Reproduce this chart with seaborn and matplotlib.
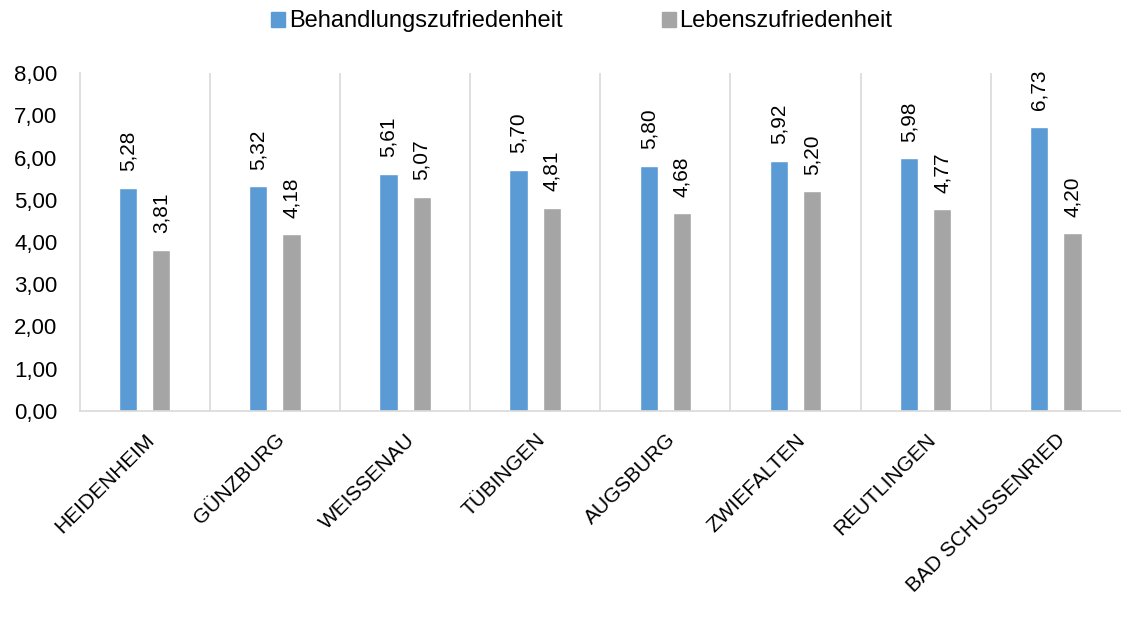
import pandas as pd
import numpy as np
import matplotlib
matplotlib.use("Agg")
import matplotlib.pyplot as plt
import seaborn as sns

kliniken = ["HEIDENHEIM", "GÜNZBURG", "WEISSENAU", "TÜBINGEN", "AUGSBURG",
            "ZWIEFALTEN", "REUTLINGEN", "BAD SCHUSSENRIED"]
behandlung = [5.28, 5.32, 5.61, 5.70, 5.80, 5.92, 5.98, 6.73]
leben = [3.81, 4.18, 5.07, 4.81, 4.68, 5.20, 4.77, 4.20]
serien = ["Behandlungszufriedenheit", "Lebenszufriedenheit"]
farben = ["#5B9BD5", "#A5A5A5"]

df = pd.DataFrame({
    "klinik": kliniken * 2,
    "wert": behandlung + leben,
    "serie": [serien[0]] * len(kliniken) + [serien[1]] * len(kliniken),
})

sns.set_style("white")
plt.rcParams["font.family"] = ["Liberation Sans", "DejaVu Sans"]
plt.rcParams["text.color"] = "black"
plt.rcParams["xtick.color"] = "black"
plt.rcParams["ytick.color"] = "black"

fig, ax = plt.subplots(figsize=(11.21, 6.30), dpi=100)
fig.subplots_adjust(left=0.071, right=1.0, top=0.884, bottom=0.348)

sns.barplot(data=df, x="klinik", y="wert", hue="serie", order=kliniken,
            hue_order=serien, palette=farben, width=0.51, gap=0.45,
            saturation=1, ax=ax, legend=False)

for cont in ax.containers:
    ax.bar_label(cont, labels=[f"{b.get_height():.2f}".replace(".", ",") for b in cont],
                 rotation=90, padding=12, fontsize=15)

ax.set_ylim(0, 8)
ax.set_xlim(-0.5, len(kliniken) - 0.5)
ax.set_yticks(range(9))
ax.set_yticklabels([f"{v:.2f}".replace(".", ",") for v in range(9)], fontsize=16)
ax.set_xlabel("")
ax.set_ylabel("")
ax.set_xticks(range(len(kliniken)))
ax.set_xticklabels(kliniken, rotation=45, ha="right", rotation_mode="anchor",
                   fontsize=15)
ax.tick_params(axis="x", length=0, pad=14)
ax.tick_params(axis="y", length=4, width=1.2, color="#D9D9D9", pad=12, labelcolor="black")

# Trennlinien zwischen den Kliniken
for i in range(len(kliniken) - 1):
    ax.axvline(i + 0.5, color="#D9D9D9", lw=1.2, zorder=0)

for s in ["top", "right"]:
    ax.spines[s].set_visible(False)
ax.spines["left"].set_color("#D9D9D9")
ax.spines["bottom"].set_color("#D9D9D9")
ax.spines["left"].set_linewidth(1.2)
ax.spines["bottom"].set_linewidth(1.2)

handles = [plt.Rectangle((0, 0), 1, 1, color=c) for c in farben]
fig.legend(handles, serien, loc="center", bbox_to_anchor=(0.519, 0.966),
           ncol=2, frameon=False, fontsize=17, handlelength=0.6,
           handleheight=0.6, handletextpad=0.15, columnspacing=4.2)

plt.savefig("out.png", dpi=100)
